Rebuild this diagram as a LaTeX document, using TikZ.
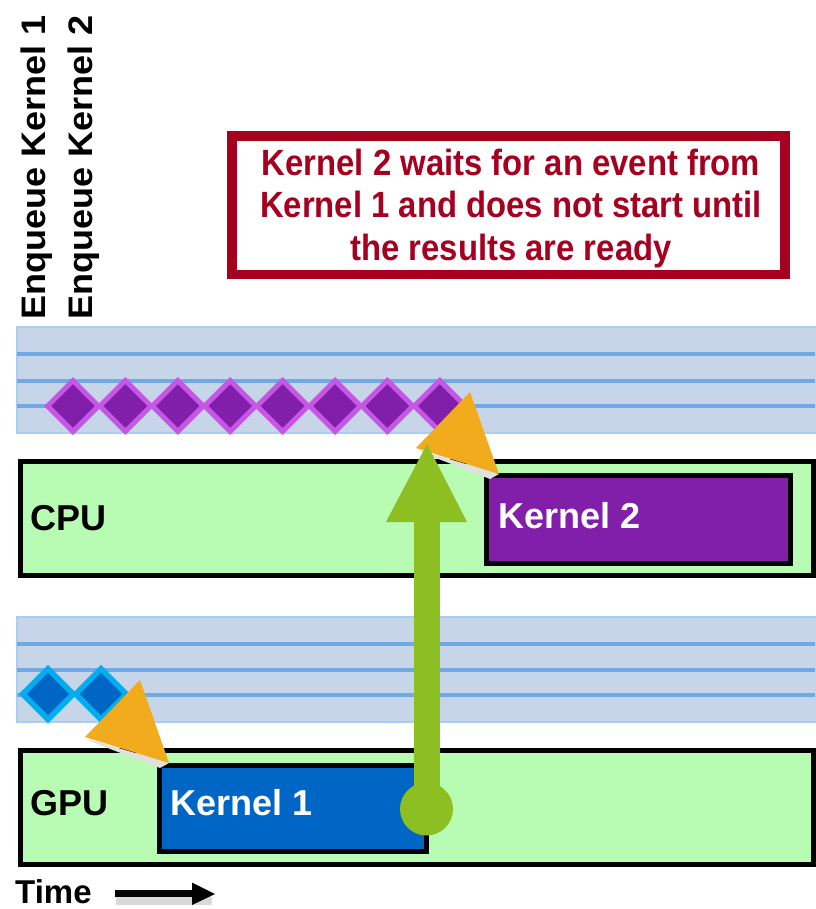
\documentclass[tikz,border=0pt]{standalone}
\usepackage{fontspec}
\setmainfont{Liberation Sans}
\usetikzlibrary{shapes.geometric}
\definecolor{boxgreen}{HTML}{B8FCB4}
\definecolor{kpurple}{HTML}{811EAA}
\definecolor{lpurple}{HTML}{C656E6}
\definecolor{kblue}{HTML}{0066C6}
\definecolor{lblue}{HTML}{00AEF0}
\definecolor{orng}{HTML}{F2AB1C}
\definecolor{agreen}{HTML}{8DBE22}
\definecolor{dred}{HTML}{A5001F}
\definecolor{bandfill}{HTML}{C6D5E8}
\definecolor{bandline}{HTML}{6FAAE6}
\definecolor{bandedge}{HTML}{A8CEF2}
\begin{document}
\begin{tikzpicture}[x=1pt,y=-1pt,
  lane/.style={draw=black, line width=5pt, fill=boxgreen, inner sep=0pt, outer sep=0pt, anchor=north west},
  kbox/.style={draw=black, line width=5pt, inner sep=0pt, outer sep=0pt, anchor=north west},
  pdia/.style={diamond, aspect=1, inner sep=0pt, minimum size=53pt, fill=kpurple, draw=lpurple, line width=5pt},
  bdia/.style={diamond, aspect=1, inner sep=0pt, minimum size=53pt, fill=kblue, draw=lblue, line width=5.5pt},
  lbl/.style={font=\fontsize{36}{40}\selectfont\bfseries, inner sep=0pt, anchor=base west},
  band/.style={fill=bandfill, draw=bandedge, line width=1.5pt, inner sep=0pt, outer sep=0pt, anchor=north west},
  bline/.style={draw=bandline, line width=4.5pt},
  vlbl/.style={font=\fontsize{34}{40}\selectfont\bfseries, inner sep=0pt, rotate=90, anchor=base west},
  orangehead/.style={fill=orng},
  greenarrow/.style={agreen, line width=26pt},
]
\useasboundingbox (0,0) rectangle (815,909);

% vertical enqueue labels
\node[vlbl] (enq1) at (45,320) {\scalebox{1.06}[1]{Enqueue Kernel 1}};
\node[vlbl] (enq2) at (92,320) {\scalebox{1.06}[1]{Enqueue Kernel 2}};

% callout
\node[draw=dred, line width=9.5pt, inner sep=0pt, outer sep=0pt, anchor=north west,
      minimum width=553pt, minimum height=138.5pt] (callout) at (232,136) {};
\node[text=dred, align=center, inner sep=0pt,
      font=\fontsize{36.5}{42.5}\selectfont\bfseries] (calltext) at (511,208.5)
  {\scalebox{0.9}[1]{Kernel 2 waits for an event from}\\
   \scalebox{0.9}[1]{Kernel 1 and does not start until}\\
   \scalebox{0.9}[1]{the results are ready}};

% queue bands
\node[band, minimum width=800pt, minimum height=106pt] (qtop) at (17,327) {};
\draw[bline] (17,354) -- (815,354);
\draw[bline] (17,381) -- (815,381);
\draw[bline] (17,406) -- (815,406);
\node[band, minimum width=800pt, minimum height=105pt] (qbot) at (17,617) {};
\draw[bline] (17,644) -- (815,644);
\draw[bline] (17,670) -- (815,670);
\draw[bline] (17,695) -- (815,695);

% purple diamonds
\foreach \i/\x in {1/73,2/125.4,3/177.8,4/230.2,5/282.6,6/335,7/387.4,8/439.8}
  \node[pdia] (p\i) at (\x,406) {};
% blue diamonds
\node[bdia] (b1) at (48,694) {};
\node[bdia] (b2) at (101,694) {};

% lanes
\node[lane, minimum width=792.5pt, minimum height=114pt] (cpu) at (20.5,461.5) {};
\node[lane, minimum width=793pt, minimum height=114.5pt] (gpu) at (20,750) {};
\node[kbox, fill=kpurple, minimum width=303.5pt, minimum height=88.5pt] (k2) at (486.5,475) {};
\node[kbox, fill=kblue, minimum width=267pt, minimum height=86pt] (k1) at (159,765.5) {};

\node[lbl] (cpulbl) at (30,530) {CPU};
\node[lbl] (gpulbl) at (30,815) {GPU};
\node[lbl, text=white] (k2lbl) at (498,528) {Kernel 2};
\node[lbl, text=white] (k1lbl) at (170,815) {Kernel 1};

% orange arrow heads
\coordinate (k1tip) at (169,763);
\coordinate (k2tip) at (499,474);
\fill[black!12] (88,739) -- (k1tip) -- (160,768) -- (92,742) -- cycle;
\fill[orangehead] (140,680) -- (85,737) -- (k1tip) -- cycle;
\fill[black!12] (419,450) -- (k2tip) -- (490,479) -- (423,453) -- cycle;
\fill[orangehead] (470,392) -- (416,448) -- (k2tip) -- cycle;

% green arrow
\node[circle, fill=agreen, minimum size=53pt, inner sep=0pt] (gdot) at (426.5,809) {};
\coordinate (gbase) at (426.5,520);
\coordinate (gapex) at (427,444);
\draw[greenarrow] (gdot.center) -- (gbase);
\fill[agreen] (386,522) -- (gapex) -- (467,522) -- cycle;

% time
\node[lbl, font=\fontsize{33}{38}\selectfont\bfseries] (time) at (15,903) {Time};
\coordinate (ta) at (115,893.5);
\coordinate (tb) at (215,894);
\fill[black!15] (116,897) rectangle (212,905);
\draw[line width=7pt] (ta) -- (195,893.5);
\fill (192,882.5) -- (tb) -- (192,905) -- cycle;
\end{tikzpicture}
\end{document}
